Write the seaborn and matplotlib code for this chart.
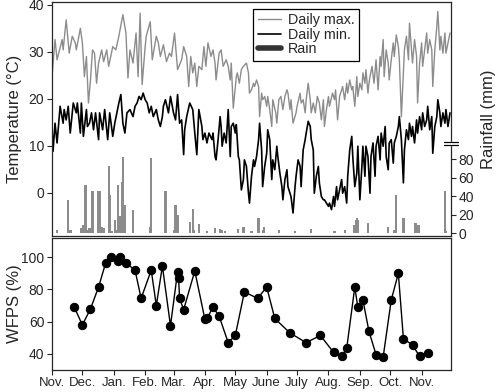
import numpy as np
import pandas as pd
import seaborn as sns
import matplotlib.pyplot as plt

# days counted from 1 Nov
tmax_day = [0, 3, 5, 10, 11, 14, 17, 20, 23, 24, 28, 30, 32, 34, 36, 38, 40, 42, 44, 46,
            49, 51, 54, 56, 60, 63, 66, 70, 73, 75, 77, 80, 83, 85, 87, 89, 92, 93, 97, 99,
            103, 105, 107, 110, 113, 116, 118, 121, 124, 128, 130, 133, 135, 137, 139, 141, 143, 145,
            148, 150, 152, 154, 157, 159, 161, 162, 165, 167, 169, 172, 174, 176, 177, 179, 182, 183,
            185, 187, 189, 192, 194, 195, 197, 199, 200, 202, 204, 205, 207, 208, 210, 212, 213, 215,
            217, 218, 221, 222, 224, 226, 228, 230, 232, 233, 235, 236, 238, 241, 242, 245, 246, 248,
            250, 251, 253, 255, 256, 258, 260, 262, 264, 266, 268, 269, 271, 273,
            274, 277, 279, 280, 282, 284, 287, 289, 291, 292, 294, 296, 297, 299, 301, 302, 304, 306,
            307, 309, 310, 312, 313, 314, 316, 318, 320, 322, 324, 325, 327, 328, 330, 332, 333, 335,
            337, 338, 340, 342, 343, 345, 347, 348, 350, 352, 353, 355, 356, 358, 360, 361, 363, 365,
            366, 368, 370, 371, 373, 375, 376, 378, 380, 381, 383, 384, 386, 388, 389, 391, 393]
tmax_val = [24.7, 32.6, 28.3, 32.6, 30.4, 36.8, 29.7, 33.3, 31.9, 30.4, 35.0, 31.9, 24.7, 29.0, 19.1, 24.0, 30.4, 29.7, 23.3, 27.6,
            30.4, 27.9, 30.4, 26.9, 31.1, 30.4, 33.3, 37.9, 34.0, 24.4, 30.4, 27.6, 34.0, 24.7, 38.2, 23.0, 31.1, 33.3, 36.4, 28.3,
            33.3, 31.9, 29.0, 31.5, 27.9, 29.7, 29.0, 34.0, 26.2, 28.3, 31.1, 29.0, 22.6, 29.0, 25.5, 27.6, 22.6, 26.9,
            26.2, 31.1, 26.9, 31.9, 29.0, 30.4, 27.6, 24.0, 29.7, 30.4, 26.9, 28.3, 26.9, 24.0, 27.6, 18.0, 24.7, 25.5,
            23.3, 26.2, 26.9, 27.6, 25.5, 21.2, 21.9, 23.3, 22.6, 24.0, 22.6, 16.2, 21.2, 19.8, 20.5, 18.4, 20.5, 17.7,
            14.1, 19.8, 17.0, 14.8, 19.8, 20.5, 17.7, 20.5, 21.9, 21.2, 17.7, 19.8, 14.8, 17.0, 18.4, 21.2, 19.1, 19.8,
            17.0, 19.8, 23.3, 19.8, 17.0, 19.1, 17.0, 20.5, 19.1, 15.5, 19.8, 14.1, 17.7, 20.5,
            18.4, 21.2, 19.8, 21.9, 15.5, 20.5, 22.6, 19.8, 23.3, 21.2, 24.0, 21.9, 22.6, 18.4, 24.7, 20.5, 23.3, 21.9,
            25.5, 23.3, 26.2, 21.2, 23.3, 24.7, 26.9, 23.3, 28.3, 21.9, 29.0, 26.9, 32.6, 24.7, 30.4, 27.6, 24.0, 28.3,
            31.9, 29.0, 33.6, 31.1, 28.3, 16.2, 25.5, 30.4, 33.3, 28.3, 36.1, 30.4, 27.6, 32.6, 29.0, 19.1, 27.6, 31.9,
            26.9, 30.4, 34.0, 29.7, 32.6, 30.4, 22.6, 30.4, 35.4, 38.6, 30.4, 33.3, 29.7, 34.0, 29.7, 31.9, 34.0]

tmin_day = [0, 1, 3, 5, 8, 11, 12, 14, 16, 18, 21, 24, 25, 28, 29, 31, 34, 35, 37, 39,
            41, 43, 46, 47, 50, 52, 55, 57, 60, 62, 64, 66, 68, 70, 72, 74, 77, 80, 82, 84,
            86, 88, 90, 92, 94, 96, 98, 100, 103, 105, 107, 109, 110, 112, 115, 117, 120, 122, 124, 126,
            128, 130, 131, 133, 136, 139, 141, 143, 145,
            148, 149, 151, 153, 155, 158, 159, 161, 162, 164, 166, 167, 168, 170, 172, 174, 176, 177, 179, 181,
            182, 184, 185, 187, 189, 190, 192, 194, 195, 197, 199, 200, 202, 204, 205, 207, 208, 210, 212, 213,
            215, 217, 218, 220, 222, 223, 225, 227, 228, 230, 232, 233, 235, 236, 238, 240, 241, 243, 245, 246,
            248, 250, 251, 253, 255, 256, 258, 259, 261, 263, 264, 266, 268, 269, 271, 273,
            274, 276, 278, 279, 281, 282, 284, 286, 287, 289, 291, 292, 294, 296, 297, 299, 301, 302, 304, 306,
            307, 309, 310, 312, 314, 315, 317, 319, 320, 322, 324, 325, 327, 329, 330, 332, 333, 335, 337, 338,
            340, 342, 343, 345, 347, 348, 350, 352, 353, 355, 356, 358, 360, 361, 363, 365, 366, 368, 370, 371,
            373, 375, 376, 378, 380, 381, 383, 384, 386, 388, 389, 391, 393]
tmin_val = [14.1, 8.8, 14.8, 10.6, 18.4, 14.8, 17.7, 15.5, 18.4, 12.7, 19.1, 17.0, 19.1, 12.7, 19.1, 12.0, 17.7, 14.1, 14.8, 17.0,
            13.4, 17.0, 11.3, 17.0, 13.4, 17.7, 11.3, 17.0, 12.0, 14.8, 17.0, 19.1, 20.9, 14.8, 12.7, 17.0, 17.7, 16.2, 18.4, 19.1,
            20.5, 19.8, 21.2, 19.8, 19.1, 17.0, 18.4, 16.2, 17.7, 15.5, 14.1, 16.2, 18.4, 19.8, 17.0, 20.5, 17.0, 15.5, 20.9, 14.8,
            15.5, 8.1, 13.4, 16.2, 19.1, 17.7, 12.7, 8.1, 17.7,
            14.1, 11.3, 12.7, 10.6, 12.7, 11.3, 12.7, 7.7, 7.0, 11.3, 16.2, 14.1, 9.9, 12.7, 10.6, 17.7, 7.7, 14.1, 14.8, 12.7,
            14.5, 7.7, 7.0, 0.6, 2.8, 7.0, 5.6, -0.1, -2.2, 3.5, 7.0, 5.6, 7.7, 11.3, 14.8, 9.1, 1.3, 5.6, 8.4, 13.4,
            11.3, 2.8, 7.0, 4.9, 9.9, 7.7, 4.2, 1.3, -1.5, 2.8, 4.9, 1.3, -0.1, -0.8, -4.3, 1.3, 3.5, 7.0, 5.6, 1.3,
            9.1, 11.3, 12.7, 15.2, 14.1, 11.3, 9.1, -0.1, 3.5, 5.6, 2.1, -0.8, -1.5, -1.5, -2.2, -2.9,
            -2.2, -3.6, -0.8, -2.9, 1.3, -1.5, 0.6, 2.8, -0.1, 1.3, -2.2, 3.5, 9.1, 12.0, 7.7, 1.3, 4.2, 9.9, -1.5, 5.6,
            9.9, 3.5, 9.9, 7.7, -0.1, 7.7, 10.6, 3.5, 9.9, 12.0, 7.0, 12.7, 9.9, 14.1, 7.7, 4.9, 10.6, 11.3, 6.3, 10.6,
            12.0, 14.1, 16.2, 11.3, 2.1, 9.1, 13.4, 11.3, 14.8, 12.0, 14.1, 10.6, 15.5, 12.7, 16.2, 13.4, 17.0, 14.1, 15.5, 18.4,
            13.4, 16.2, 8.4, 14.1, 16.2, 19.8, 17.0, 14.1, 17.0, 14.8, 17.7, 14.1, 17.0]

rain_day = [5, 16, 17, 19, 29, 31, 33, 35, 37, 40, 46, 47, 49, 51, 56, 57, 59, 62, 64, 65,
            67, 69, 70, 72, 80, 97, 98, 112, 121, 122, 124, 136, 139, 140, 145, 153, 161, 166, 168, 171,
            184, 189, 197, 204, 208, 209, 224, 240, 256, 279, 289, 298, 300, 301, 302, 312, 332, 338, 340, 347,
            359, 362, 388, 389]
rain_mm = [3, 36, 3, 3, 5, 9, 52, 3, 5, 45, 45, 45, 7, 5, 72, 41, 2, 14, 3, 52,
           18, 55, 82, 30, 25, 7, 81, 45, 3, 30, 19, 12, 26, 3, 10, 2, 5, 4, 3, 2,
           4, 7, 2, 16, 3, 7, 3, 2, 4, 2, 3, 9, 14, 16, 14, 11, 7, 3, 41, 16,
           11, 9, 46, 2]

wfps_day = [22, 30, 38, 46, 53, 58, 65, 67, 73, 82, 88, 98, 103, 109, 117, 124, 125, 126, 130, 141,
            151, 153, 159, 165, 174, 181, 190, 203, 212, 220, 235, 251, 265, 278, 286, 291, 299, 302, 307, 313,
            320, 327, 335, 342, 347, 356, 363, 371]
wfps_val = [69, 58, 68, 81.5, 96.5, 100, 97.5, 100, 96.5, 92, 74.5, 92, 70, 94.5, 57.5, 91, 87, 74.5, 67.5, 91.5,
            61.5, 62, 69, 63.5, 47, 51.5, 78.5, 74.5, 81.5, 62, 53, 47, 51.5, 41, 38.5, 43.5, 81.5, 69, 73.5, 54,
            39.5, 38, 73.5, 90, 49.5, 45.5, 38.5, 40.5]

month_ticks = [0, 30, 61, 92, 120, 151, 181, 212, 242, 273, 304, 334, 365]
month_labels = ['Nov.', 'Dec.', 'Jan.', 'Feb.', 'Mar.', 'Apr.', 'May', 'June', 'July',
                'Aug.', 'Sep.', 'Oct.', 'Nov.']

sns.set_theme(style='ticks')
plt.rcParams['font.family'] = ['Liberation Sans', 'DejaVu Sans']
plt.rcParams['axes.linewidth'] = 0.9
plt.rcParams['xtick.major.width'] = 0.8
plt.rcParams['ytick.major.width'] = 0.8

gray = '#8c8c8c'
fig = plt.figure(figsize=(5, 3.92), dpi=100)
ax = fig.add_axes([0.104, 0.398, 0.798, 0.597])
ax_b = fig.add_axes([0.104, 0.056, 0.798, 0.337])

# top panel: temperatures
sns.lineplot(x=tmax_day, y=tmax_val, ax=ax, color=gray, lw=1.0, estimator=None, sort=False,
             label='Daily max.')
sns.lineplot(x=tmin_day, y=tmin_val, ax=ax, color='black', lw=1.2, estimator=None, sort=False,
             label='Daily min.')
ax.set_xlim(0, 394)
ax.set_ylim(-9.2, 40.6)
ax.set_yticks([0, 10, 20, 30, 40])
ax.set_xticks([])
ax.set_ylabel('Temperature (°C)', fontsize=12)
ax.yaxis.set_label_coords(-0.075, 0.5)
ax.tick_params(axis='y', labelsize=10, length=3.5, pad=2)

# rain on the twin axis
ax2 = ax.twinx()
ax2.bar(rain_day, rain_mm, width=2.2, color=gray, linewidth=0)
ax2.set_ylim(-3.2, 250)
ax2.set_yticks([0, 20, 40, 60, 80])
ax2.set_ylabel('Rainfall (mm)', fontsize=12)
ax2.yaxis.set_label_coords(1.075, 0.5)
ax2.tick_params(axis='y', labelsize=10, length=3.5, pad=2)
for s in ax2.spines.values():
    s.set_visible(False)

# axis break mark on the right spine
ax.add_patch(plt.Rectangle((0.99, 0.389), 0.02, 0.013, transform=ax.transAxes,
                           color='white', clip_on=False, zorder=5))
for yy in (0.389, 0.402):
    ax.plot([0.982, 1.018], [yy, yy], transform=ax.transAxes, color='black', lw=0.9,
            clip_on=False, zorder=6)

handles, labels = ax.get_legend_handles_labels()
handles.append(plt.Line2D([], [], color='#333333', lw=4))
labels.append('Rain')
ax.legend(handles, labels, loc='upper left', bbox_to_anchor=(0.505, 0.972), fontsize=10.3,
          frameon=True, fancybox=False, edgecolor='black', framealpha=1,
          handlelength=1.6, handletextpad=0.5, labelspacing=0.05, borderpad=0.3,
          borderaxespad=0)
ax.get_legend().get_frame().set_linewidth(0.9)

# bottom panel: WFPS
sns.lineplot(x=wfps_day, y=wfps_val, ax=ax_b, color='black', lw=1.0, marker='o',
             markersize=6, markeredgecolor='black', estimator=None, sort=False)
ax_b.set_xlim(0, 394)
ax_b.set_ylim(30, 112)
ax_b.set_yticks([40, 60, 80, 100])
ax_b.set_xticks(month_ticks)
ax_b.set_xticklabels(month_labels)
ax_b.set_ylabel('WFPS (%)', fontsize=12)
ax_b.yaxis.set_label_coords(-0.075, 0.5)
ax_b.tick_params(axis='y', labelsize=10, length=3.5, pad=2)
ax_b.tick_params(axis='x', labelsize=9.5, length=3.5, pad=1.5)

fig.savefig('out.png', dpi=100)
